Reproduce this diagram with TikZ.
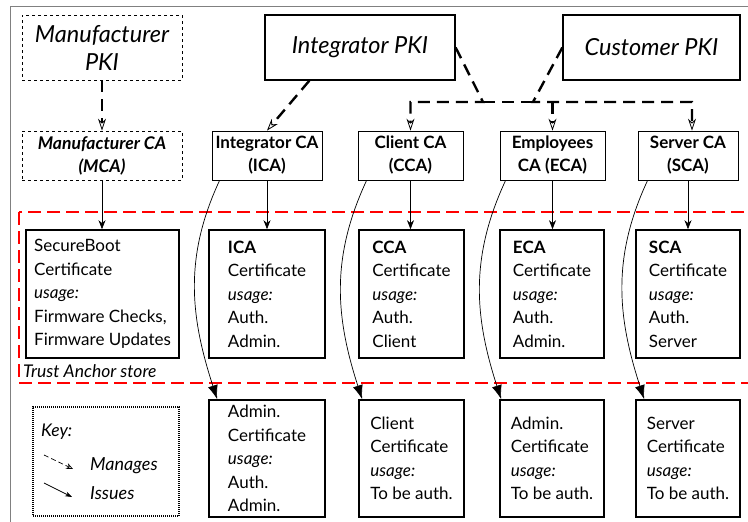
\documentclass[tikz,border=0pt]{standalone}
\usepackage{fontspec}
\setmainfont{Lato}
\usetikzlibrary{arrows.meta, positioning, calc}

\begin{document}
\begin{tikzpicture}[x=1pt, y=-1pt,
    pki/.style={rectangle, draw, line width=1.3pt, minimum height=65pt, inner sep=0pt, align=center, font=\fontsize{23.5}{28}\selectfont\itshape},
    ca/.style={rectangle, draw, line width=0.8pt, minimum height=49pt, inner sep=0pt, align=center, font=\fontsize{17}{23}\selectfont\bfseries},
    cert/.style={rectangle, draw, line width=1.6pt, inner sep=0pt, align=left, font=\fontsize{17}{23.5}\selectfont},
    keybox/.style={rectangle, draw, line width=2pt, dash pattern=on 1pt off 1pt, minimum width=146pt, minimum height=109pt},
    manages/.style={line width=2.4pt, dash pattern=on 12pt off 7pt, -{Stealth[open, length=12pt, width=8pt, line width=0.8pt]}},
    issues/.style={line width=0.7pt, -{Stealth[length=9pt, width=7pt]}},
    issuesbig/.style={line width=0.7pt, -{Latex[length=14pt, width=10pt]}}
]
    \useasboundingbox (0,0) rectangle (748,522);
    % Rahmen
    \draw[gray, line width=1pt] (10,6) rectangle (780,540);

    % PKI
    \node[pki, dashed, line width=0.7pt, minimum width=160pt] (mpki) at (102,47.5) {Manufacturer\\PKI};
    \node[pki, minimum width=190pt] (ipki) at (360,47.5) {Integrator PKI};
    \node[pki, minimum width=177pt] (cpki) at (651.5,47.5) {Customer PKI};

    % CAs
    \node[ca, dashed, line width=0.6pt, minimum width=160pt, font=\fontsize{17.5}{23}\selectfont\bfseries\itshape] (mca) at (102,155.5) {Manufacturer CA\\(MCA)};
    \node[ca, minimum width=110pt] (ica) at (267,155.5) {Integrator CA\\(ICA)};
    \node[ca, minimum width=105pt] (cca) at (410.5,155.5) {Client CA\\(CCA)};
    \node[ca, minimum width=105pt] (eca) at (552.5,155.5) {Employees\\CA (ECA)};
    \node[ca, minimum width=100pt] (sca) at (688,155.5) {Server CA\\(SCA)};

    % Trust Anchor store
    \draw[red, line width=2.2pt, dash pattern=on 13pt off 6pt] (19,212) rectangle (790,383);
    \node[anchor=base west, inner sep=0pt, font=\fontsize{17.5}{20}\selectfont\itshape] (tas) at (23,377) {Trust Anchor store};

    % Zertifikate im Trust Anchor store
    \node[cert, minimum width=153pt, minimum height=128pt] (sbcert) at (102.5,294) {SecureBoot\\Certificate\\\textit{usage:}\\Firmware Checks,\\Firmware Updates};
    \node[cert, minimum width=116pt, minimum height=128pt] (icacert) at (267,294) {\textbf{ICA}\\Certificate\\\textit{usage:}\\Auth.\\Admin.};
    \node[cert, minimum width=105pt, minimum height=128pt] (ccacert) at (411.5,294) {\textbf{CCA}\\Certificate\\\textit{usage:}\\Auth.\\Client};
    \node[cert, minimum width=104pt, minimum height=128pt] (ecacert) at (552,294) {\textbf{ECA}\\Certificate\\\textit{usage:}\\Auth.\\Admin.};
    \node[cert, minimum width=104pt, minimum height=128pt] (scacert) at (688,294) {\textbf{SCA}\\Certificate\\\textit{usage:}\\Auth.\\Server};

    % ausgestellte Zertifikate
    \node[cert, minimum width=116pt, minimum height=117pt] (admcert) at (267,458.5) {Admin.\\Certificate\\\textit{usage:}\\Auth.\\Admin.};
    \node[cert, minimum width=105pt, minimum height=117pt] (clicert) at (411.5,458.5) {Client\\Certificate\\\textit{usage:}\\To be auth.};
    \node[cert, minimum width=104pt, minimum height=117pt] (empcert) at (552,458.5) {Admin.\\Certificate\\\textit{usage:}\\To be auth.};
    \node[cert, minimum width=104pt, minimum height=117pt] (srvcert) at (688,458.5) {Server\\Certificate\\\textit{usage:}\\To be auth.};

    % Manages
    \coordinate (busA) at (483,102);
    \coordinate (busB) at (533,102);
    \draw[manages] (mpki.south) -- (mca.north);
    \draw[manages] ([xshift=45pt]ipki.south west) -- (ica.north);
    \draw[manages] (ipki.east) -- (busA) -| (cca.north);
    \draw[manages] (cpki.west) -- (busB) -| ([xshift=4pt]sca.north);
    \draw[line width=2.4pt, dash pattern=on 12pt off 7pt] (busA) -- (busB);
    \draw[manages] (eca.north |- busB) -- (eca.north);

    % Issues
    \draw[issues] (mca.south) -- (mca.south |- sbcert.north);
    \draw[issues] (ica.south) -- (ica.south |- icacert.north);
    \draw[issues] (cca.south) -- (cca.south |- ccacert.north);
    \draw[issues] (eca.south) -- (eca.south |- ecacert.north);
    \draw[issues] (sca.south) -- (sca.south |- scacert.north);
    \draw[issuesbig] ([xshift=8pt]ica.south west) to[out=245, in=108] ([xshift=9pt]admcert.north west);
    \draw[issuesbig] ([xshift=9pt]cca.south west) to[out=245, in=108] ([xshift=4pt]clicert.north west);
    \draw[issuesbig] ([xshift=6pt]eca.south west) to[out=245, in=108] ([xshift=2pt]empcert.north west);
    \draw[issuesbig] ([xshift=10pt]sca.south west) to[out=245, in=108] ([xshift=9pt]srvcert.north west);

    % Legende
    \node[keybox] (key) at (106,461.5) {};
    \node[anchor=base west, inner sep=0pt, font=\fontsize{17.5}{20}\selectfont\itshape] (keylbl) at (41,436) {Key:};
    \coordinate (km1) at (44,455);
    \coordinate (km2) at (73,469);
    \coordinate (ki1) at (44,483);
    \coordinate (ki2) at (72,497);
    \draw[line width=0.7pt, dash pattern=on 5pt off 3pt, -{Stealth[open, length=7pt, width=6pt]}] (km1) -- (km2);
    \draw[line width=0.7pt, -{Stealth[length=7pt, width=5pt]}] (ki1) -- (ki2);
    \node[anchor=base west, inner sep=0pt, font=\fontsize{18}{20}\selectfont\itshape] (kman) at (90,470) {Manages};
    \node[anchor=base west, inner sep=0pt, font=\fontsize{18}{20}\selectfont\itshape] (kiss) at (90,499) {Issues};
\end{tikzpicture}
\end{document}
